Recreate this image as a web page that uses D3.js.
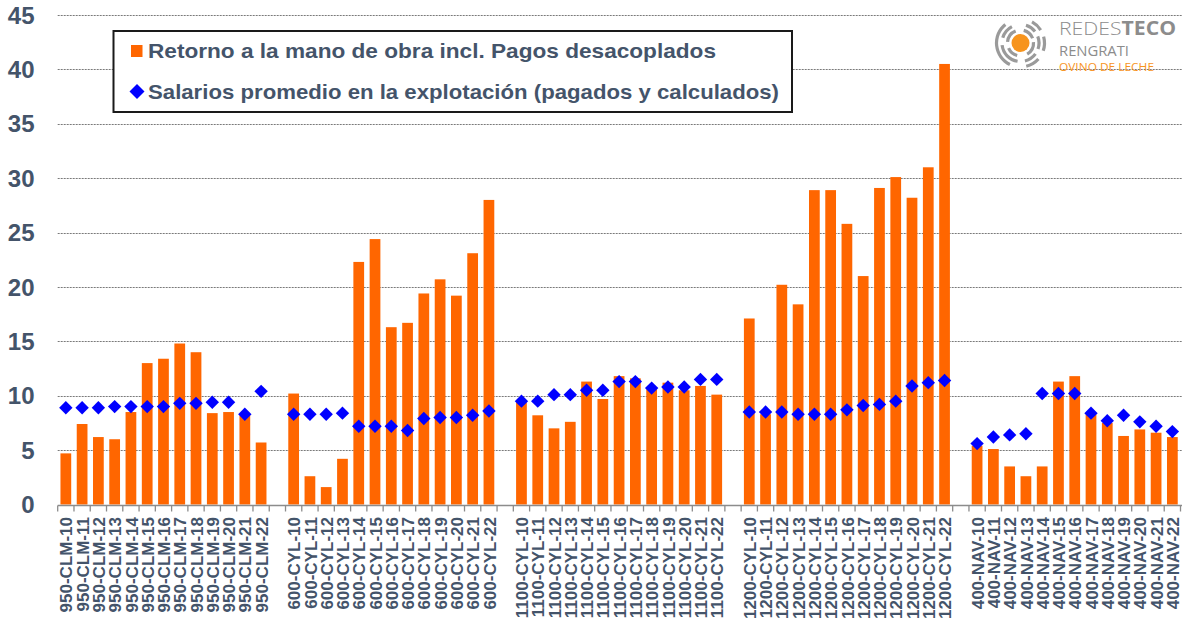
<!DOCTYPE html>
<html>
<head>
<meta charset="utf-8">
<script src="https://cdn.jsdelivr.net/npm/d3@7"></script>
<style>
  html, body { margin: 0; padding: 0; background: #fff; }
  svg { display: block; }
</style>
</head>
<body>
<svg id="chart" width="1182" height="627"></svg>
<script>
// ---------- DATA ----------
const groups = ["950-CLM", "600-CYL", "1100-CYL", "1200-CYL", "400-NAV"];
const years = ["10","11","12","13","14","15","16","17","18","19","20","21","22"];

const retorno950CLM  = [4.7, 7.4, 6.2, 6.0, 8.5, 13.0, 13.4, 14.8, 14.0, 8.4, 8.5, 8.2, 5.7];
const retorno600CYL  = [10.2, 2.6, 1.6, 4.2, 22.3, 24.4, 16.3, 16.7, 19.4, 20.7, 19.2, 23.1, 28.0];
const retorno1100CYL = [9.4, 8.2, 7.0, 7.6, 11.3, 9.7, 11.8, 11.6, 10.6, 11.2, 10.5, 10.9, 10.1];
const retorno1200CYL = [17.1, 8.3, 20.2, 18.4, 28.9, 28.9, 25.8, 21.0, 29.1, 30.1, 28.2, 31.0, 40.5];
const retorno400NAV  = [5.4, 5.1, 3.5, 2.6, 3.5, 11.3, 11.8, 8.3, 7.5, 6.3, 6.9, 6.6, 6.2];

const salario950CLM  = [8.9, 8.9, 8.9, 9.0, 9.0, 9.0, 9.0, 9.3, 9.3, 9.4, 9.4, 8.3, 10.4];
const salario600CYL  = [8.3, 8.3, 8.3, 8.4, 7.2, 7.2, 7.2, 6.8, 7.9, 8.0, 8.0, 8.2, 8.6];
const salario1100CYL = [9.5, 9.5, 10.1, 10.1, 10.5, 10.5, 11.3, 11.3, 10.7, 10.8, 10.8, 11.5, 11.5];
const salario1200CYL = [8.5, 8.5, 8.5, 8.3, 8.3, 8.3, 8.7, 9.1, 9.2, 9.5, 10.9, 11.2, 11.4];
const salario400NAV  = [5.6, 6.2, 6.4, 6.5, 10.2, 10.2, 10.2, 8.4, 7.7, 8.2, 7.6, 7.2, 6.7];

const yTicks = [0, 5, 10, 15, 20, 25, 30, 35, 40, 45];
const legendLabels = [
  "Retorno a la mano de obra incl. Pagos desacoplados",
  "Salarios promedio en la explotación (pagados y calculados)"
];

// ---------- BUILD ----------
const retornoSeries = [retorno950CLM, retorno600CYL, retorno1100CYL, retorno1200CYL, retorno400NAV];
const salarioSeries = [salario950CLM, salario600CYL, salario1100CYL, salario1200CYL, salario400NAV];

const slots = [];
const rows = [];
groups.forEach((g, gi) => {
  years.forEach((yr, yi) => {
    const cat = g + "-" + yr;
    slots.push(cat);
    rows.push({ cat, retorno: retornoSeries[gi][yi], salario: salarioSeries[gi][yi] });
  });
  if (gi < groups.length - 1) slots.push("__gap" + gi);
});

const svg = d3.select("#chart");
const textColor = "#44546A";

const x0 = 57.7, x1 = 1180.5;
const x = d3.scaleBand().domain(slots).range([x0, x1]).paddingInner(0.34).paddingOuter(0.17);
const y = d3.scaleLinear().domain([0, 45]).range([504.5, 15]);
const step = x.step();

// gridlines
svg.append("g").selectAll("line").data(yTicks.filter(d => d > 0)).join("line")
  .attr("x1", x0).attr("x2", 1182)
  .attr("y1", d => Math.round(y(d)) + 0.5).attr("y2", d => Math.round(y(d)) + 0.5)
  .attr("stroke", "#7a7a7a").attr("stroke-width", 1).attr("stroke-dasharray", "2,1");

// y labels
svg.append("g").selectAll("text").data(yTicks).join("text")
  .attr("x", 34.5).attr("y", d => y(d)).attr("dy", "0.36em")
  .attr("text-anchor", "end")
  .attr("font-family", "Liberation Sans, Arial, sans-serif")
  .attr("font-weight", "bold").attr("font-size", 24)
  .attr("fill", textColor)
  .text(d => d);

// bars
svg.append("g").selectAll("rect").data(rows).join("rect")
  .attr("x", d => x(d.cat)).attr("width", x.bandwidth())
  .attr("y", d => y(d.retorno)).attr("height", d => y(0) - y(d.retorno))
  .attr("fill", "#FF6600");

// x axis line and ticks
const axisY = Math.round(y(0)) + 0.5;
svg.append("line").attr("x1", x0).attr("x2", 1182).attr("y1", axisY).attr("y2", axisY)
  .attr("stroke", "#8c8c8c").attr("stroke-width", 1.3);
svg.append("g").selectAll("line").data(d3.range(slots.length + 1)).join("line")
  .attr("x1", i => x0 + i * step).attr("x2", i => x0 + i * step)
  .attr("y1", axisY).attr("y2", axisY + 6)
  .attr("stroke", "#8c8c8c").attr("stroke-width", 1.3);

// x labels
svg.append("g").selectAll("text").data(rows).join("text")
  .attr("transform", d => `translate(${x(d.cat) + x.bandwidth() / 2 + 0.5},517) rotate(-90)`)
  .attr("dy", "0.36em")
  .attr("text-anchor", "end")
  .attr("font-family", "Liberation Sans, Arial, sans-serif")
  .attr("font-weight", "bold").attr("font-size", 17)
  .attr("fill", textColor)
  .text(d => d.cat);

// diamonds
const diamond = r => `M0,${-r}L${r},0L0,${r}L${-r},0Z`;
svg.append("g").selectAll("path").data(rows).join("path")
  .attr("transform", d => `translate(${x(d.cat) + x.bandwidth() / 2},${y(d.salario)})`)
  .attr("d", diamond(6.7))
  .attr("fill", "#0000FF");

// legend
const lg = svg.append("g");
lg.append("rect").attr("x", 113.5).attr("y", 31).attr("width", 678.5).attr("height", 81)
  .attr("fill", "#fff").attr("stroke", "#1a1a1a").attr("stroke-width", 2);
lg.append("rect").attr("x", 131).attr("y", 45).attr("width", 11.5).attr("height", 12)
  .attr("fill", "#FF6600");
lg.append("path").attr("transform", "translate(137,91.5)").attr("d", diamond(7.5)).attr("fill", "#0000FF");
const legendW = [568, 631];
lg.selectAll("text.l").data(legendLabels).join("text")
  .attr("class", "l")
  .attr("x", 148).attr("y", (d, i) => i === 0 ? 58 : 99)
  .attr("font-family", "Liberation Sans, Arial, sans-serif")
  .attr("font-weight", "bold").attr("font-size", 21)
  .attr("fill", textColor)
  .attr("textLength", (d, i) => legendW[i]).attr("lengthAdjust", "spacingAndGlyphs")
  .text(d => d);

// logo
const logo = svg.append("g");
const cx = 1020.5, cy = 43;
logo.append("circle").attr("cx", cx).attr("cy", cy).attr("r", 9).attr("fill", "#F7941D");
const arcGen = d3.arc();
const arcs = [
  { r: 13, a: [[0.25, 1.2], [1.5, 2.6], [3.4, 4.3], [4.8, 5.9]] },
  { r: 18.5, a: [[0.3, 0.9], [1.2, 1.9], [2.2, 2.9], [3.3, 4.6], [5.0, 5.8]] },
  { r: 24, a: [[3.6, 5.6], [0.5, 1.0], [1.3, 1.9], [2.3, 2.9]] }
];
arcs.forEach(c => {
  c.a.forEach(([s, e]) => {
    logo.append("path")
      .attr("transform", `translate(${cx},${cy})`)
      .attr("d", arcGen({ innerRadius: c.r - 1.6, outerRadius: c.r + 1.6, startAngle: s, endAngle: e }))
      .attr("fill", "#9a9a9a");
  });
});
const t1 = logo.append("text").attr("x", 1059).attr("y", 35)
  .attr("font-family", "Open Sans, Liberation Sans, sans-serif").attr("font-size", 19)
  .attr("fill", "#8c8c8c").attr("textLength", 117).attr("lengthAdjust", "spacingAndGlyphs");
t1.append("tspan").attr("font-weight", 300).text("REDES");
t1.append("tspan").attr("font-weight", 700).text("TECO");
logo.append("text").attr("x", 1059).attr("y", 55.5)
  .attr("font-family", "Open Sans, Liberation Sans, sans-serif").attr("font-size", 14)
  .attr("fill", "#8c8c8c").attr("textLength", 70).attr("lengthAdjust", "spacingAndGlyphs")
  .text("RENGRATI");
logo.append("text").attr("x", 1059).attr("y", 71)
  .attr("font-family", "Open Sans, Liberation Sans, sans-serif").attr("font-size", 11)
  .attr("fill", "#F7941D").attr("textLength", 95).attr("lengthAdjust", "spacingAndGlyphs")
  .text("OVINO DE LECHE");
</script>
</body>
</html>
